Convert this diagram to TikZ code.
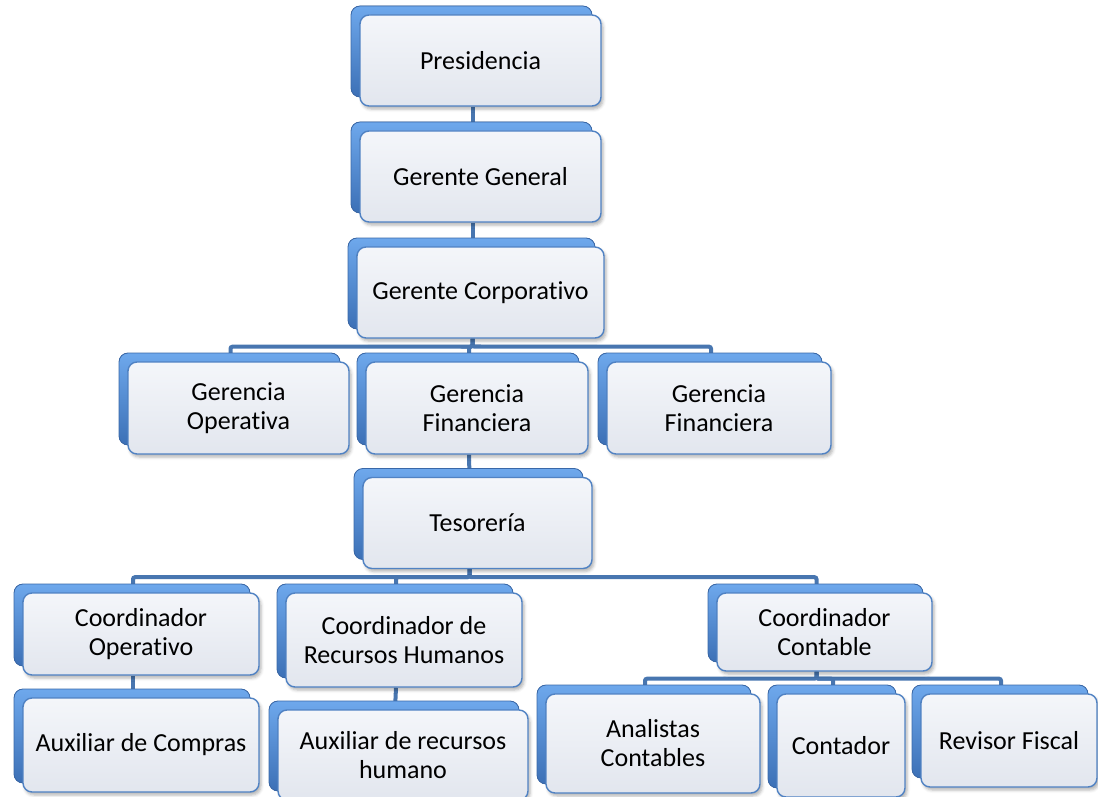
\documentclass[tikz,border=0pt]{standalone}
\usepackage{fontspec}
\setmainfont{Carlito}[Ligatures={NoCommon,NoRare,NoContextual}]
\usetikzlibrary{shadows,shadows.blur,backgrounds}
\definecolor{conncol}{RGB}{72,118,176}
\definecolor{boxline}{RGB}{80,130,195}
\definecolor{fronttop}{RGB}{244,246,250}
\definecolor{frontbot}{RGB}{226,230,238}
\definecolor{backtop}{RGB}{110,168,236}
\definecolor{backbot}{RGB}{60,112,182}
\definecolor{backline}{RGB}{58,104,168}
\begin{document}
\begin{tikzpicture}[x=1pt,y=-1pt,
  org/.style={draw=boxline, line width=1.4pt, rounded corners=9pt,
    top color=fronttop, bottom color=frontbot, align=center,
    font=\fontsize{26}{29}\selectfont, inner sep=0pt, text=black,
    copy shadow={shadow xshift=-9pt, shadow yshift=9pt, top color=backtop,
      bottom color=backbot, draw=backline, line width=0.8pt},
    blur shadow={shadow xshift=2pt, shadow yshift=-3pt, shadow blur radius=3pt, shadow opacity=30}},
  conn/.style={draw=conncol, line width=4pt, rounded corners=2pt}
]
\useasboundingbox (0,0) rectangle (1098,797);
\node[org, minimum width=241pt, minimum height=91pt] (pres) at (480.5,60.5) {Presidencia};
\node[org, minimum width=241pt, minimum height=91pt] (gg) at (480.5,176.5) {Gerente General};
\node[org, minimum width=247pt, minimum height=91pt] (gc) at (480.5,292.5) {Gerente Corporativo};
\node[org, minimum width=221pt, minimum height=92pt] (go) at (238.5,408) {Gerencia\\Operativa};
\node[org, minimum width=222pt, minimum height=92pt] (gf1) at (477,408) {Gerencia\\Financiera};
\node[org, minimum width=224pt, minimum height=92pt] (gf2) at (719,408) {Gerencia\\Financiera};
\node[org, minimum width=229pt, minimum height=91pt] (tes) at (477.5,523) {Tesorería};
\node[org, minimum width=236pt, minimum height=82pt] (co) at (141,634) {Coordinador\\Operativo};
\node[org, minimum width=236pt, minimum height=94pt] (ac) at (141,745) {Auxiliar de Compras};
\node[org, minimum width=236pt, minimum height=94pt] (crh) at (404,640) {Coordinador de\\Recursos Humanos};
\node[org, minimum width=250pt, minimum height=90pt] (arh) at (403,755) {Auxiliar de recursos\\humano};
\node[org, minimum width=215pt, minimum height=78pt] (cc) at (824.5,632) {Coordinador\\Contable};
\node[org, minimum width=214pt, minimum height=99pt] (an) at (653,743.5) {Analistas\\Contables};
\node[org, minimum width=128pt, minimum height=103pt] (con) at (841,745.5) {Contador};
\node[org, minimum width=176pt, minimum height=93pt] (rf) at (1009,740.5) {Revisor Fiscal};
\begin{pgfonlayer}{background}
\draw[conn] ([xshift=-8pt]pres.south) -- ([xshift=-8pt]gg.north);
\draw[conn] ([xshift=-8pt]gg.south) -- ([xshift=-8pt]gc.north);
\draw[conn] ([xshift=-8pt]gc.south) -- ++(0,8) -| ([xshift=-8pt]go.north);
\draw[conn] ([xshift=-8pt]gc.south) -- ++(0,8) -| ([xshift=-8pt]gf1.north);
\draw[conn] ([xshift=-8pt]gc.south) -- ++(0,8) -| ([xshift=-8pt]gf2.north);
\draw[conn] ([xshift=-8pt]gf1.south) -- ([xshift=-8pt]tes.north);
\draw[conn] ([xshift=-8pt]tes.south) -- ++(0,8) -| ([xshift=-8pt]co.north);
\draw[conn] ([xshift=-8pt]tes.south) -- ++(0,8) -| ([xshift=-8pt]crh.north);
\draw[conn] ([xshift=-8pt]tes.south) -- ++(0,8) -| ([xshift=-8pt]cc.north);
\draw[conn] ([xshift=-8pt]co.south) -- ([xshift=-8pt]ac.north);
\draw[conn] ([xshift=-8pt]crh.south) -- ([xshift=-8pt]arh.north);
\draw[conn] ([xshift=-8pt]cc.south) -- ++(0,7) -| ([xshift=-8pt]an.north);
\draw[conn] ([xshift=-8pt]cc.south) -- ++(0,7) -| ([xshift=-8pt]con.north);
\draw[conn] ([xshift=-8pt]cc.south) -- ++(0,7) -| ([xshift=-8pt]rf.north);
\end{pgfonlayer}
\end{tikzpicture}
\end{document}
